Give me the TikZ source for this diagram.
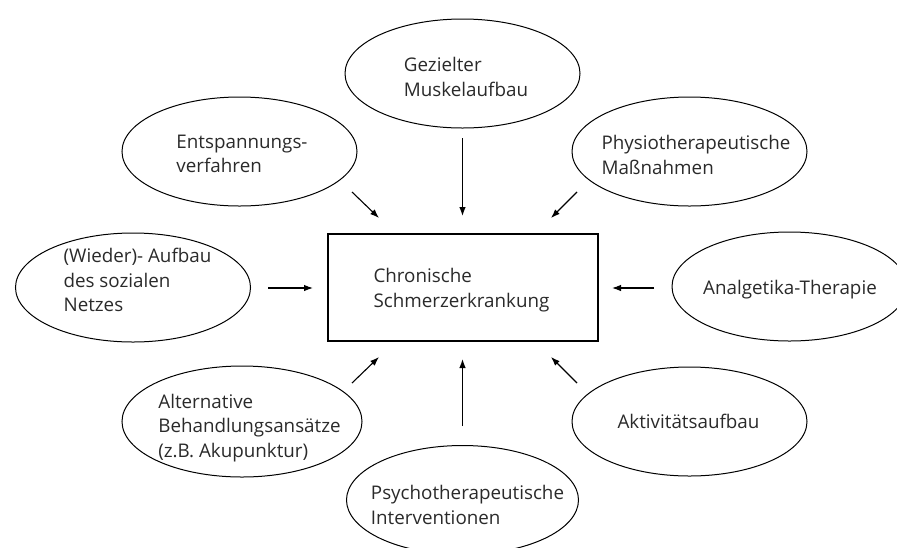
\documentclass[tikz,border=0pt]{standalone}
\usepackage{fontspec}
\setmainfont{Open Sans}
\usetikzlibrary{shapes.geometric,arrows.meta}
\definecolor{txt}{HTML}{2A2A2A}
\tikzset{
  bubble/.style={ellipse, draw=black, line width=1pt, inner sep=0pt,
    minimum width=235pt, minimum height=109pt},
  core/.style={rectangle, draw=black, line width=1.1pt, inner sep=0pt,
    minimum width=270pt, minimum height=107pt},
  lbl/.style={inner sep=0pt, text=txt, align=left,
    font=\fontsize{18.8}{24.5}\selectfont},
  feed/.style={line width=1.1pt, -{Latex[length=9pt,width=6.5pt]}}
}
\begin{document}
\begin{tikzpicture}[x=1pt,y=-1pt]
\useasboundingbox (0,0) rectangle (897,547);
\node[core] (c) at (463,287.5) {};
\node[bubble] (gm) at (462.5,73.5) {};
\node[bubble] (ent) at (239.5,151.5) {};
\node[bubble] (phy) at (689.5,151.5) {};
\node[bubble] (wie) at (133,287.5) {};
\node[bubble] (ana) at (789.5,286.5) {};
\node[bubble, minimum width=240pt, minimum height=111pt] (alt) at (242,421.5) {};
\node[bubble] (akt) at (689.5,421.5) {};
\node[bubble, minimum width=232pt] (psy) at (462.5,500) {};
% labels
\node[lbl] (cT) at (461.5,290) {Chronische\\Schmerzerkrankung};
\node[lbl] (gmT) at (466,77) {Gezielter\\Muskelaufbau};
\node[lbl] (entT) at (242,154) {Entspannungs-\\verfahren};
\node[lbl] (phyT) at (696,155) {Physiotherapeutische\\Maßnahmen};
\node[lbl] (wieT) at (137.5,280) {(Wieder)- Aufbau\\des sozialen\\Netzes};
\node[lbl] (anaT) at (790,290) {Analgetika-Therapie};
\node[lbl] (altT) at (249.5,428) {Alternative\\Behandlungsansätze\\(z.B. Akupunktur)};
\node[lbl] (aktT) at (688.5,421) {Aktivitätsaufbau};
\node[lbl] (psyT) at (467.5,505) {Psychotherapeutische\\Interventionen};
% arrow end points
\coordinate (gmS) at (462.5,138); \coordinate (gmE) at (462.5,216);
\coordinate (entS) at (352,192); \coordinate (entE) at (379,218);
\coordinate (phyS) at (577,192); \coordinate (phyE) at (551,218);
\coordinate (wieS) at (268,288); \coordinate (wieE) at (313,288);
\coordinate (anaS) at (654,288); \coordinate (anaE) at (612,288);
\coordinate (altS) at (352,383); \coordinate (altE) at (379,357);
\coordinate (psyS) at (462.5,426); \coordinate (psyE) at (462.5,359);
\coordinate (aktS) at (577,383); \coordinate (aktE) at (551,357);
\draw[feed] (gmS) -- (gmE);
\draw[feed] (entS) -- (entE);
\draw[feed] (phyS) -- (phyE);
\draw[feed] (wieS) -- (wieE);
\draw[feed] (anaS) -- (anaE);
\draw[feed] (altS) -- (altE);
\draw[feed] (psyS) -- (psyE);
\draw[feed] (aktS) -- (aktE);
\end{tikzpicture}
\end{document}
